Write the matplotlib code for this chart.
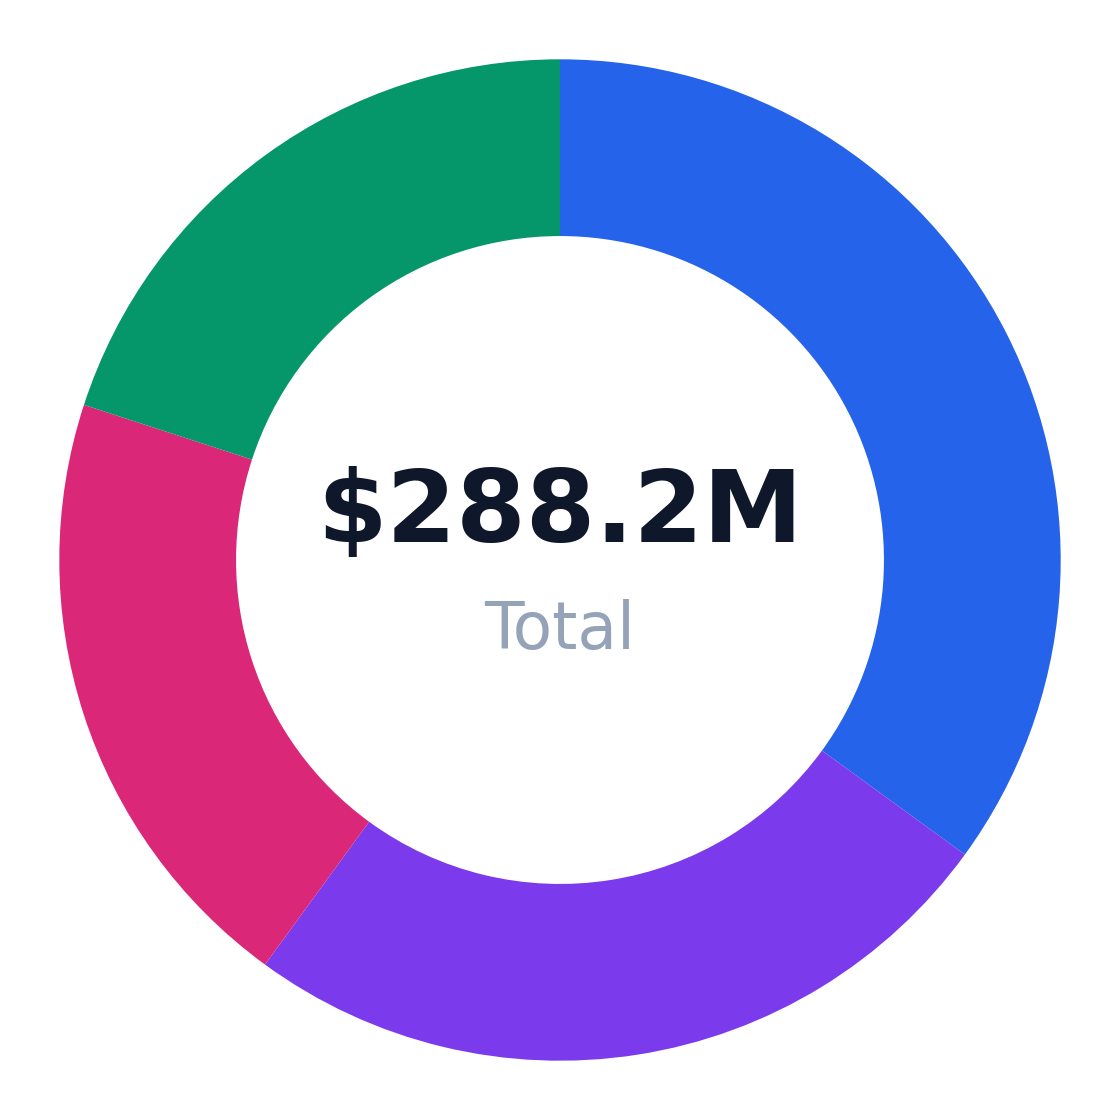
import matplotlib
matplotlib.use("Agg")
import matplotlib.pyplot as plt

# segment values ($M), clockwise from the top
labels = ["Blue", "Purple", "Pink", "Green"]
values = [100.9, 72.1, 57.6, 57.6]
colors = ["#2563eb", "#7c3aed", "#db2777", "#059669"]
total_text = "$288.2M"
sub_text = "Total"

fig = plt.figure(figsize=(11.2, 11.2), dpi=100)
ax = fig.add_axes([0, 0, 1, 1])

ax.pie(values, colors=colors, startangle=90, counterclock=False,
       radius=1.0, wedgeprops=dict(width=0.353, linewidth=0))

lim = 560 / 500.7
ax.set_xlim(-lim, lim)
ax.set_ylim(-lim, lim)
ax.set_aspect("equal")
ax.axis("off")

ax.text(0, 0.09, total_text, ha="center", va="center", fontsize=72,
        fontweight="bold", color="#0f172a")
ax.text(0, -0.142, sub_text, ha="center", va="center", fontsize=46.5,
        color="#94a3b8")

fig.savefig("out.png", dpi=100, facecolor="white")
